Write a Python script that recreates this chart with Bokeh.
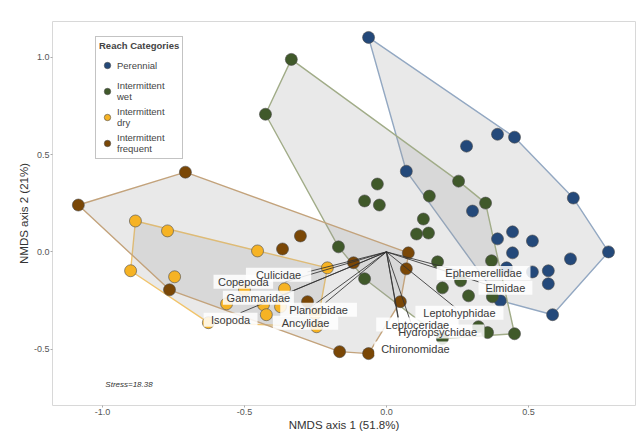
import numpy as np
from bokeh.plotting import figure
from bokeh.core.properties import value
from bokeh.models import ColumnDataSource, LabelSet, Label, Legend, LegendItem, FixedTicker
from bokeh.embed import file_html
from bokeh.resources import INLINE

# ---------------- data ----------------
per_x = [-0.063, 0.391, 0.451, 0.282, 0.070, 0.658, 0.303, 0.391, 0.444, 0.514, 0.782,
         0.444, 0.648, 0.423, 0.514, 0.570, 0.570, 0.401, 0.585]
per_y = [1.103, 0.605, 0.590, 0.544, 0.415, 0.277, 0.210, 0.067, 0.103, 0.056, 0.000,
         -0.005, -0.036, -0.082, -0.103, -0.097, -0.164, -0.251, -0.323]

wet_x = [-0.335, -0.426, 0.254, -0.032, -0.077, -0.025, 0.151, 0.349, 0.130, 0.106, 0.148,
         -0.169, -0.077, 0.180, 0.370, 0.197, 0.261, 0.289, 0.373, 0.324, 0.356, 0.451, 0.197]
wet_y = [0.990, 0.708, 0.364, 0.349, 0.262, 0.241, 0.287, 0.251, 0.169, 0.092, 0.097,
         0.026, -0.138, -0.051, -0.046, -0.185, -0.149, -0.226, -0.231, -0.385, -0.415, -0.421, -0.446]

dry_x = [-0.884, -0.771, -0.454, -0.901, -0.746, -0.208, -0.500, -0.359, -0.563, -0.433,
         -0.373, -0.423, -0.250, -0.627, -0.246]
dry_y = [0.159, 0.108, 0.005, -0.097, -0.128, -0.082, -0.195, -0.190, -0.267, -0.272,
         -0.282, -0.323, -0.318, -0.364, -0.385]

frq_x = [-1.085, -0.708, -0.303, -0.366, -0.764, -0.116, -0.278, 0.077, 0.070, 0.049, -0.165, -0.063]
frq_y = [0.241, 0.410, 0.082, 0.015, -0.195, -0.056, -0.256, -0.005, -0.087, -0.256, -0.513, -0.523]

taxa = ["Culicidae", "Copepoda", "Gammaridae", "Isopoda", "Planorbidae", "Ancylidae",
        "Leptoceridae", "Hydropsychidae", "Chironomidae", "Leptohyphidae", "Ephemerellidae", "Elmidae"]
vec_x = [-0.278, -0.356, -0.373, -0.514, -0.215, -0.303, 0.042, 0.085, 0.049, 0.243, 0.296, 0.366]
vec_y = [-0.103, -0.154, -0.226, -0.313, -0.262, -0.323, -0.338, -0.359, -0.410, -0.287, -0.113, -0.174]
lab_x = [-0.380, -0.504, -0.451, -0.549, -0.239, -0.285, 0.109, 0.180, 0.102, 0.257, 0.342, 0.419]
lab_y = [-0.118, -0.154, -0.236, -0.349, -0.297, -0.364, -0.374, -0.410, -0.497, -0.313, -0.108, -0.185]

x_ticks = [-1.0, -0.5, 0.0, 0.5]
x_tick_labels = ["-1.0", "-0.5", "0.0", "0.5"]
y_ticks = [-0.5, 0.0, 0.5, 1.0]
y_tick_labels = ["-0.5", "0.0", "0.5", "1.0"]

groups = ["Perennial", "Intermittent\nwet", "Intermittent\ndry", "Intermittent\nfrequent"]
point_colors = ["#24497a", "#40592a", "#f6b324", "#7a4706"]
hull_colors = ["#93a8c2", "#a1ac88", "#f1c46c", "#c3a37c"]
stress_text = "Stress=18.38"


def convex_hull(xs, ys):
    pts = sorted(set(zip(xs, ys)))
    def cross(o, a, b):
        return (a[0] - o[0]) * (b[1] - o[1]) - (a[1] - o[1]) * (b[0] - o[0])
    lower, upper = [], []
    for p_ in pts:
        while len(lower) >= 2 and cross(lower[-2], lower[-1], p_) <= 0:
            lower.pop()
        lower.append(p_)
    for p_ in reversed(pts):
        while len(upper) >= 2 and cross(upper[-2], upper[-1], p_) <= 0:
            upper.pop()
        upper.append(p_)
    h = lower[:-1] + upper[:-1]
    return [q[0] for q in h], [q[1] for q in h]


p = figure(width=637, height=433, output_backend="svg", toolbar_location=None,
           x_range=(-1.176, 0.877), y_range=(-0.79, 1.185),
           min_border_left=52, min_border_top=21, min_border_right=2, min_border_bottom=27)
p.xgrid.visible = False
p.ygrid.visible = False
p.outline_line_color = "#d8d8d8"
p.outline_line_width = 1
p.background_fill_color = "white"

data_sets = [(per_x, per_y), (wet_x, wet_y), (dry_x, dry_y), (frq_x, frq_y)]

# hulls
for (xs, ys), hc in zip(data_sets, hull_colors):
    hx, hy = convex_hull(xs, ys)
    p.patch(hx, hy, fill_color="#9a9a9a", fill_alpha=0.22, line_color=hc, line_width=1.4)

# points
renderers = []
for (xs, ys), pc in zip(data_sets, point_colors):
    r = p.scatter(xs, ys, size=12, fill_color=pc, line_color="#4a4a4a", line_width=0.6)
    renderers.append(r)

# vectors
p.segment(x0=[0.0] * len(vec_x), y0=[0.0] * len(vec_y), x1=vec_x, y1=vec_y,
          line_color="#333333", line_width=1.0, line_alpha=0.85)

# label boxes + text
box_w = [len(t) * 5.7 + 14 for t in taxa]
src = ColumnDataSource(dict(x=lab_x, y=lab_y, t=taxa, w=box_w))
p.rect(x="x", y="y", width="w", height=14, width_units="screen", height_units="screen",
       source=src, fill_color="white", fill_alpha=0.85, line_color=None)
labels = LabelSet(x="x", y="y", text="t", source=src, text_align="center", text_baseline="middle",
                  text_font=value("Liberation Sans"), text_font_size="11px", text_color="#3a3a3a")
p.add_layout(labels)

p.add_layout(Label(x=-0.99, y=-0.682, text=stress_text, text_font="Liberation Sans",
                   text_font_size="8px", text_font_style="italic", text_color="#333333",
                   text_baseline="middle"))

# axes
p.xaxis.ticker = FixedTicker(ticks=x_ticks)
p.yaxis.ticker = FixedTicker(ticks=y_ticks)
p.xaxis.major_label_overrides = dict(zip(x_ticks, x_tick_labels))
p.yaxis.major_label_overrides = dict(zip(y_ticks, y_tick_labels))
for ax in (p.xaxis, p.yaxis):
    ax.axis_line_color = None
    ax.minor_tick_line_color = None
    ax.major_tick_line_color = "#aaaaaa"
    ax.major_tick_in = 0
    ax.major_tick_out = 2
    ax.major_label_standoff = 1
    ax.major_label_text_font = "Liberation Sans"
    ax.major_label_text_font_size = "9px"
    ax.major_label_text_color = "#555555"
    ax.axis_label_text_font = "Liberation Sans"
    ax.axis_label_text_font_size = "11.5px"
    ax.axis_label_text_font_style = "normal"
    ax.axis_label_text_color = "#333333"
    ax.axis_label_standoff = 1
p.xaxis.axis_label = "NMDS axis 1 (51.8%)"
p.yaxis.axis_label = "NMDS axis 2 (21%)"

legend = Legend(items=[LegendItem(label=g, renderers=[r]) for g, r in zip(groups, renderers)],
                location=(43, 246), title="Reach Categories")
legend.title_text_font = "Liberation Sans"
legend.title_text_font_size = "9.5px"
legend.title_text_font_style = "bold"
legend.title_standoff = 2
legend.label_text_font = "Liberation Sans"
legend.label_text_font_size = "9.5px"
legend.label_text_color = "#444444"
legend.label_height = 24
legend.glyph_height = 24
legend.glyph_width = 16
legend.label_standoff = 2
legend.spacing = 2
legend.padding = 3
legend.margin = 0
legend.border_line_color = "#888888"
legend.border_line_width = 1
legend.background_fill_color = "white"
legend.background_fill_alpha = 1
p.add_layout(legend)

open("out.html", "w").write(file_html(p, INLINE))
